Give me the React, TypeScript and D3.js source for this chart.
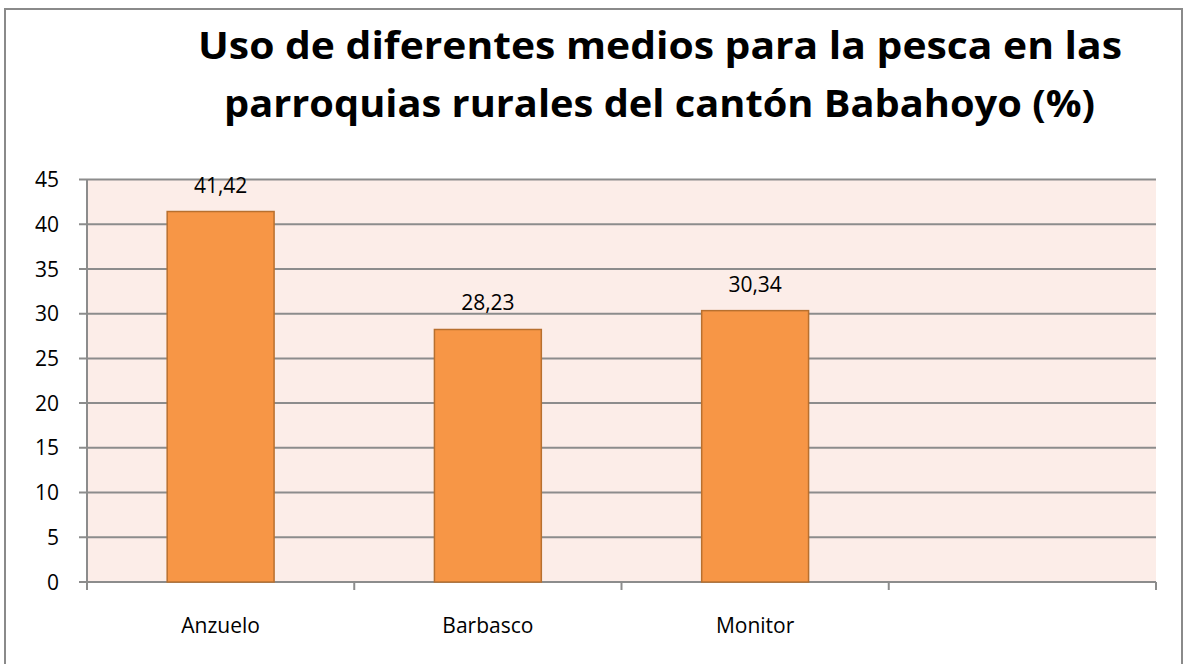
import React from "react";
import * as d3 from "d3";

const categories = ["Anzuelo", "Barbasco", "Monitor", ""];
const values: (number | null)[] = [41.42, 28.23, 30.34, null];
const valueLabels = ["41,42", "28,23", "30,34", ""];
const yTicks = [0, 5, 10, 15, 20, 25, 30, 35, 40, 45];
const titleLines = [
  "Uso de diferentes  medios para la pesca  en las",
  "parroquias rurales del cantón Babahoyo (%)",
];

const W = 1186;
const H = 664;
const plot = { left: 87, right: 1156, top: 179.5, bottom: 582 };
const font = "'Open Sans', sans-serif";

export default function App() {
  const x = d3
    .scaleBand<string>()
    .domain(categories.map((c, i) => String(i)))
    .range([plot.left, plot.right])
    .paddingInner(0.6)
    .paddingOuter(0.3);
  const y = d3.scaleLinear().domain([0, 45]).range([plot.bottom, plot.top]);
  const step = (plot.right - plot.left) / categories.length;
  const bounds = d3.range(categories.length + 1).map((i) => plot.left + i * step);

  return (
    <svg
      width={W}
      height={H}
      style={{ position: "absolute", left: 0, top: 0, background: "#fff" }}
      fontFamily={font}
    >
      <rect x={5} y={9} width={1177} height={664} fill="#fff" stroke="#8a8a8a" strokeWidth={2} />
      {titleLines.map((t, i) => (
        <text
          key={i}
          x={i === 0 ? 198 : 224}
          y={i === 0 ? 59 : 117}
          fontSize={38}
          fontWeight="bold"
          fill="#000"
          textLength={i === 0 ? 924 : 871}
          lengthAdjust="spacingAndGlyphs"
        >
          {t}
        </text>
      ))}
      <rect
        x={plot.left}
        y={plot.top}
        width={plot.right - plot.left}
        height={plot.bottom - plot.top}
        fill="#FCEDE8"
      />
      {yTicks.map((t) => (
        <g key={t}>
          <line x1={plot.left - 8} x2={plot.right} y1={y(t)} y2={y(t)} stroke="#8c8c8c" strokeWidth={2} />
          <text x={59} y={y(t)} dy="0.36em" textAnchor="end" fontSize={21} fill="#000">
            {t}
          </text>
        </g>
      ))}
      <line x1={plot.left} x2={plot.left} y1={plot.top} y2={plot.bottom} stroke="#8c8c8c" strokeWidth={2} />
      {bounds.map((b, i) => (
        <line key={i} x1={b} x2={b} y1={plot.bottom} y2={plot.bottom + 8} stroke="#8c8c8c" strokeWidth={2} />
      ))}
      {categories.map((c, i) => {
        const v = values[i];
        const bx = x(String(i))!;
        return (
          <g key={i}>
            {v !== null && (
              <rect
                x={bx}
                y={y(v)}
                width={x.bandwidth()}
                height={plot.bottom - y(v)}
                fill="#F79646"
                stroke="#B8702F"
                strokeWidth={1.5}
              />
            )}
            {v !== null && (
              <text x={bx + x.bandwidth() / 2} y={y(v) - 19} textAnchor="middle" fontSize={21} fill="#000">
                {valueLabels[i]}
              </text>
            )}
            <text x={bx + x.bandwidth() / 2} y={633} textAnchor="middle" fontSize={21} fill="#000">
              {c}
            </text>
          </g>
        );
      })}
    </svg>
  );
}
